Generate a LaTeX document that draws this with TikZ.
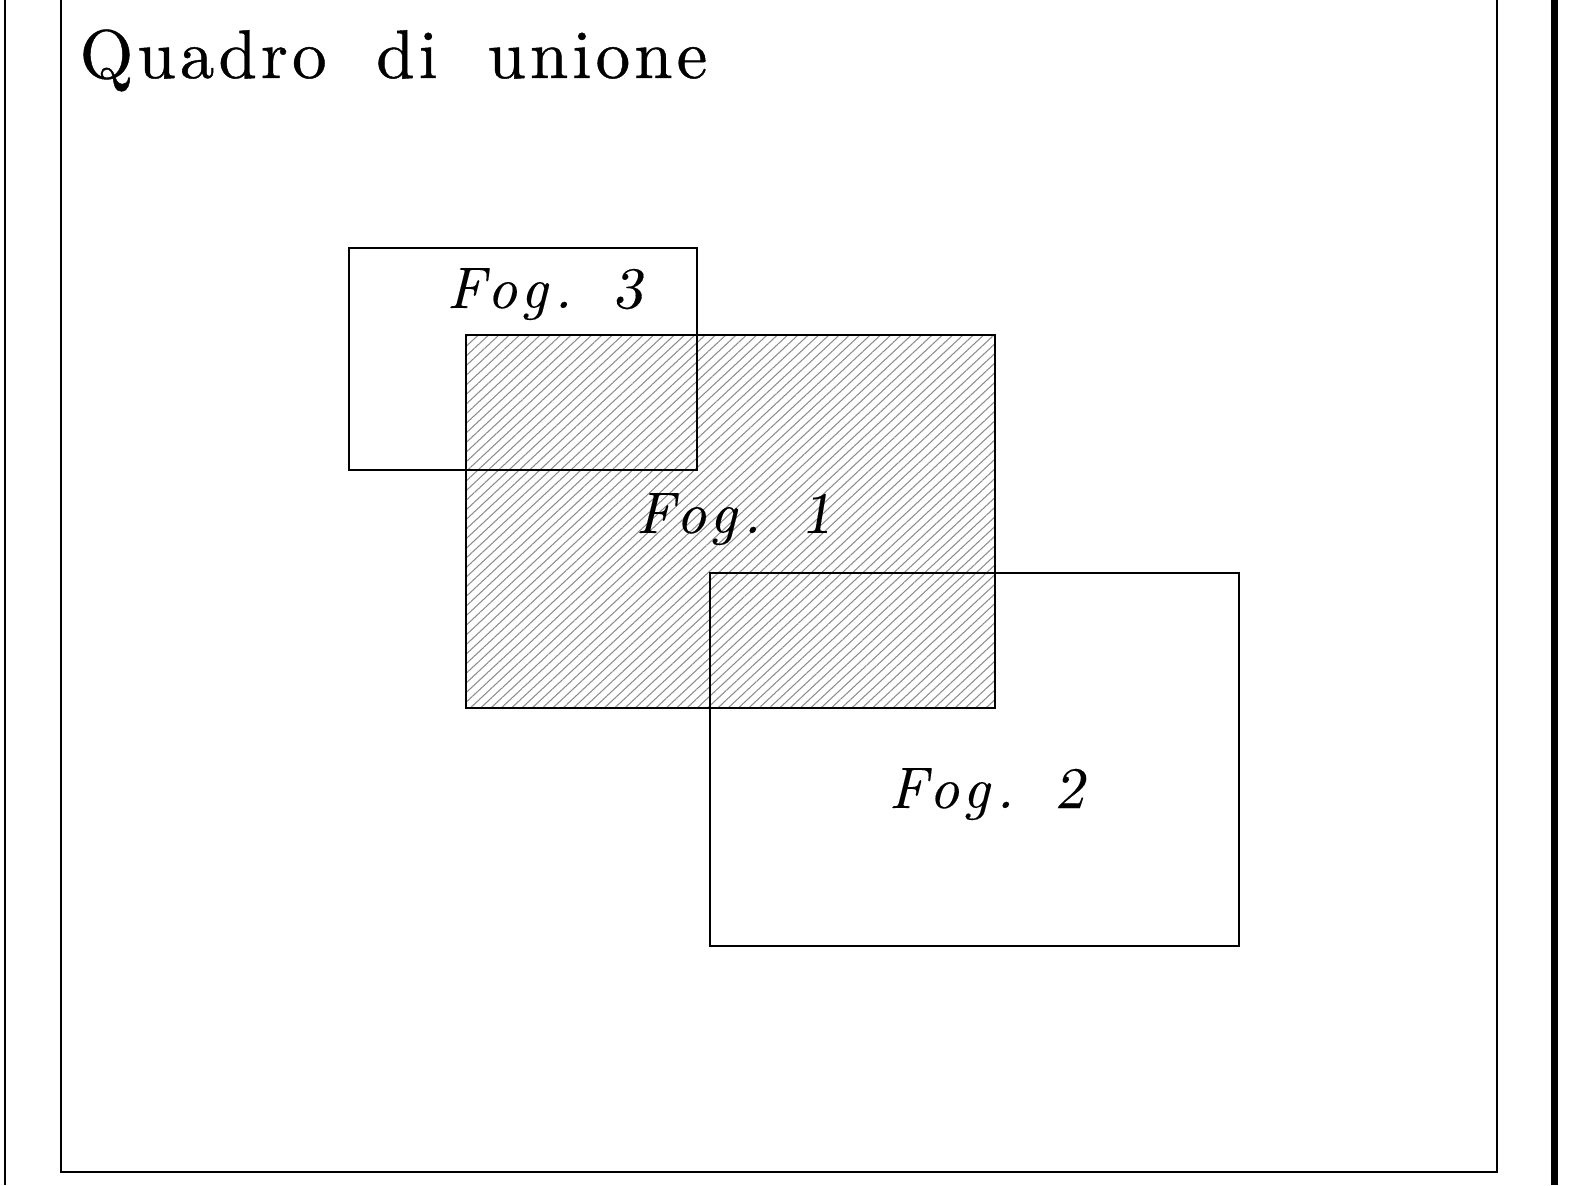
\documentclass[tikz,border=0pt]{standalone}
\usepackage{fontspec}
\usetikzlibrary{patterns.meta}
\newfontfamily\titlefont[LetterSpace=6,FakeBold=0.6]{lmroman10-regular.otf}
\newfontfamily\fogfont[LetterSpace=11,FakeBold=0.15]{lmroman10-italic.otf}
\newfontfamily\fogdigit[FakeBold=0.15]{lmromanslant10-regular.otf}
\newcommand{\foglabel}[1]{\fontsize{16.7}{20}\fogfont Fog.\hspace{0.7em}{\fogdigit #1}}
\tikzset{
	sheet/.style={draw=black,line width=0.55pt},
	hatched/.style={pattern={Lines[angle=43,distance=2pt,line width=0.3pt]},pattern color=black!45},
	foglab/.style={anchor=base west,inner sep=0pt}
}

\begin{document}
\begin{tikzpicture}[x=0.01cm,y=-0.01cm]
	\useasboundingbox (0,0) rectangle (1570,1185);
	% page frame
	\draw[line width=0.55pt] (5,0) -- (5,1185);
	\draw[line width=0.6pt] (61,0) -- (61,1172) -- (1497,1172) -- (1497,0);
	\fill (1551,0) rectangle (1558,1185);
	\node[anchor=base west,inner sep=0pt] (title) at (79,78)
		{\fontsize{19.6}{23}\titlefont Quadro\hspace{0.72em}di\hspace{0.72em}unione};

	% sheets
	\path[hatched] (466,335) rectangle (995,708);
	\draw[sheet] (466,335) rectangle (995,708);
	\draw[sheet] (349,248) rectangle (697,470);
	\draw[sheet] (710,573) rectangle (1239,946);

	\node[foglab] (fog3) at (446,308) {\foglabel{3}};
	\node[foglab] (fog1) at (635,533) {\foglabel{1}};
	\node[foglab] (fog2) at (888,808) {\foglabel{2}};

\end{tikzpicture}
\end{document}
